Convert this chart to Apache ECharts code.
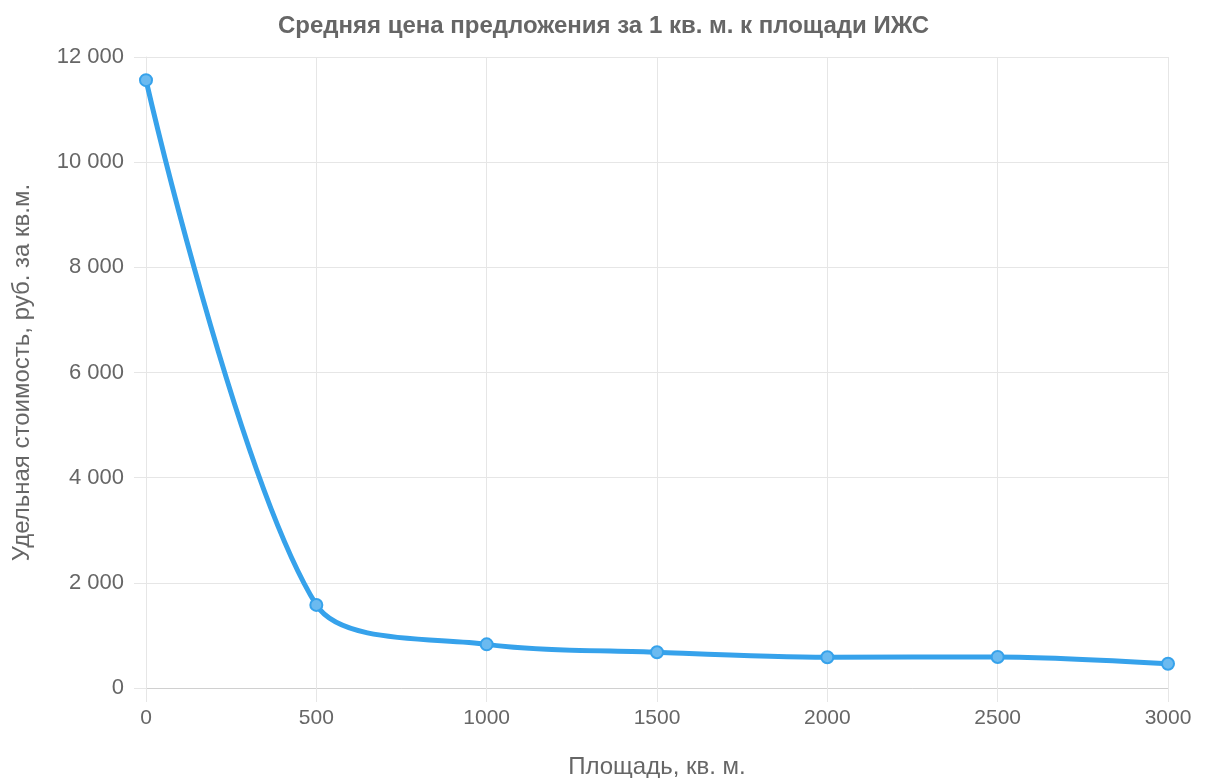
<!DOCTYPE html>
<html>
<head>
<meta charset="utf-8">
<script src="https://cdn.jsdelivr.net/npm/echarts@6/dist/echarts.min.js"></script>
<style>
html,body{margin:0;padding:0;background:#fff;}
#chart{width:1207px;height:778px;}
</style>
</head>
<body>
<div id="chart"></div>
<script>
var titleText = 'Средняя цена предложения за 1 кв. м. к площади ИЖС';
var xTitle = 'Площадь, кв. м.';
var yTitle = 'Удельная стоимость, руб. за кв.м.';
var categories = ['0', '500', '1000', '1500', '2000', '2500', '3000'];
var values = [11560, 1580, 830, 680, 585, 590, 460];

function fmt(v) {
  return String(v).replace(/\B(?=(\d{3})+(?!\d))/g, ' ');
}

var chart = echarts.init(document.getElementById('chart'), null, {renderer: 'canvas'});
var font = 'Liberation Sans, Arial, Helvetica, sans-serif';
chart.setOption({
  animation: false,
  backgroundColor: '#fff',
  title: {
    text: titleText,
    left: 'center',
    top: 9,
    textStyle: {color: '#666', fontSize: 24, fontWeight: 'bold', fontFamily: font}
  },
  grid: {left: 146, right: 39, top: 57, bottom: 90, containLabel: false, outerBoundsMode: 'none'},
  xAxis: {
    type: 'category',
    data: categories,
    boundaryGap: false,
    name: xTitle,
    nameLocation: 'middle',
    nameGap: 67,
    nameTextStyle: {color: '#666', fontSize: 24, fontFamily: font},
    axisLine: {show: true, lineStyle: {color: '#d0d0d0', width: 1}},
    axisTick: {show: true, length: 14, lineStyle: {color: '#e6e6e6'}},
    axisLabel: {color: '#666', fontSize: 21, fontFamily: font, margin: 20},
    splitLine: {show: true, lineStyle: {color: '#e6e6e6', width: 1}}
  },
  yAxis: {
    type: 'value',
    min: 0,
    max: 12000,
    interval: 2000,
    name: yTitle,
    nameLocation: 'middle',
    nameGap: 112,
    nameTextStyle: {color: '#666', fontSize: 24, fontFamily: font},
    axisLine: {show: true, lineStyle: {color: '#e6e6e6', width: 1}},
    axisTick: {show: true, length: 12, lineStyle: {color: '#e6e6e6'}},
    axisLabel: {color: '#666', fontSize: 22, fontFamily: font, margin: 22, formatter: fmt},
    splitLine: {show: true, lineStyle: {color: '#e6e6e6', width: 1}}
  },
  series: [{
    type: 'line',
    data: values,
    smooth: 0.3,
    symbol: 'circle',
    symbolSize: 12,
    showAllSymbol: true,
    lineStyle: {color: '#36a2eb', width: 5},
    itemStyle: {color: '#6bbaf0', borderColor: '#36a2eb', borderWidth: 2}
  }]
});
</script>
</body>
</html>
